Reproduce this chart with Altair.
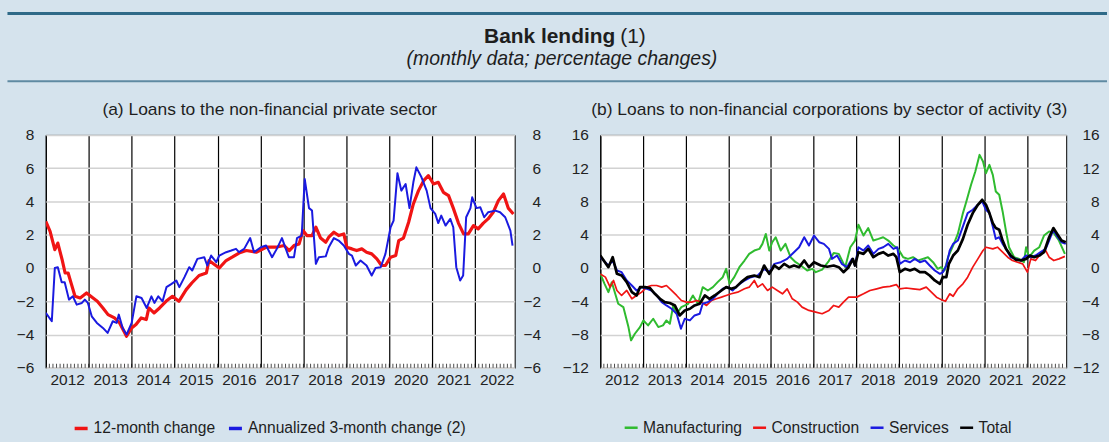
import altair as alt
import pandas as pd

FONT = "Liberation Sans, Arial, Helvetica, sans-serif"
BG = "#d5e3ed"

# ---------------- Panel (a): loans to the non-financial private sector ----------------
a12_t = [2012.00, 2012.10, 2012.21, 2012.28, 2012.38, 2012.45, 2012.52, 2012.60, 2012.68, 2012.80, 2012.95,
         2013.10, 2013.20, 2013.33, 2013.45, 2013.60, 2013.72, 2013.88,
         2014.00, 2014.10, 2014.22, 2014.34, 2014.40, 2014.52, 2014.65, 2014.80, 2014.95,
         2015.10, 2015.27, 2015.40, 2015.57, 2015.74, 2015.80,
         2016.04, 2016.20, 2016.34, 2016.50, 2016.67, 2016.90,
         2017.13, 2017.36, 2017.55, 2017.67, 2017.78, 2017.90, 2017.99,
         2018.08, 2018.20, 2018.29, 2018.40, 2018.52, 2018.59, 2018.71, 2018.82, 2018.94,
         2019.01, 2019.13, 2019.24, 2019.36, 2019.47, 2019.59, 2019.71, 2019.82, 2019.91,
         2020.03, 2020.15, 2020.22, 2020.33, 2020.45, 2020.56, 2020.68, 2020.80, 2020.91,
         2021.03, 2021.14, 2021.26, 2021.38, 2021.49, 2021.61, 2021.73, 2021.84, 2021.96,
         2022.07, 2022.19, 2022.30, 2022.42, 2022.54, 2022.66, 2022.77, 2022.89]
a12_v = [2.8, 2.2, 1.1, 1.5, 0.5, -0.3, -0.3, -1.0, -1.7, -1.8, -1.5,
         -1.8, -2.0, -2.4, -2.8, -3.0, -3.3, -4.1,
         -3.6, -3.4, -3.0, -3.1, -2.4, -2.7, -2.4, -2.0, -1.7,
         -2.0, -1.3, -0.9, -0.45, -0.3, 0.45,
         0.0, 0.45, 0.65, 0.9, 1.05, 0.95,
         1.25, 1.25, 1.35, 1.05, 1.35, 1.45, 2.25,
         1.95, 1.95, 2.45, 1.8, 1.55, 1.85, 2.15, 1.95, 2.05,
         1.25, 1.15, 1.05, 1.15, 0.95, 0.85, 0.55, 0.15, 0.15,
         0.65, 0.75, 1.65, 1.8, 2.75, 3.85, 4.65, 5.25, 5.55,
         5.05, 5.15, 4.55, 4.35, 3.6, 2.7, 2.05, 2.05, 2.55,
         2.35, 2.7, 2.95, 3.35, 4.05, 4.45, 3.6, 3.25]

a3_t = [2012.00, 2012.14, 2012.21, 2012.28, 2012.37, 2012.44, 2012.54, 2012.63, 2012.72, 2012.84, 2012.91, 2012.98,
        2013.07, 2013.19, 2013.33, 2013.44, 2013.56, 2013.65, 2013.70, 2013.79, 2013.88,
        2014.00, 2014.11, 2014.23, 2014.35, 2014.46, 2014.53, 2014.62, 2014.72, 2014.81, 2014.93,
        2015.04, 2015.11, 2015.23, 2015.34, 2015.41, 2015.53, 2015.69, 2015.76, 2015.85, 2015.97,
        2016.04, 2016.20, 2016.32, 2016.43, 2016.50, 2016.62, 2016.76, 2016.85,
        2017.01, 2017.13, 2017.27, 2017.38, 2017.50, 2017.66, 2017.78, 2017.85, 2017.96,
        2018.03, 2018.13, 2018.20, 2018.29, 2018.36, 2018.52, 2018.59, 2018.71, 2018.82, 2018.94,
        2019.06, 2019.13, 2019.22, 2019.33, 2019.47, 2019.59, 2019.68, 2019.80, 2019.91,
        2020.03, 2020.10, 2020.19, 2020.28, 2020.38, 2020.47, 2020.56, 2020.63, 2020.75, 2020.87, 2020.96,
        2021.07, 2021.14, 2021.21, 2021.31, 2021.42, 2021.49, 2021.56, 2021.65, 2021.72, 2021.79, 2021.89, 2021.93,
        2022.03, 2022.12, 2022.21, 2022.30, 2022.47, 2022.58, 2022.70, 2022.82, 2022.87]
a3_v = [-2.7, -3.2, 0.0, 0.05, -0.85, -0.85, -1.9, -1.7, -2.2, -2.1, -1.9, -2.1,
        -2.9, -3.3, -3.6, -3.9, -3.2, -3.3, -2.8, -3.6, -4.0,
        -3.3, -1.7, -1.8, -2.4, -1.7, -2.1, -1.7, -2.0, -1.15, -0.95,
        -0.75, -1.15, -0.55, 0.05, -0.15, 0.55, 0.65, 0.15, 0.75, 0.35,
        0.75, 0.95, 1.05, 1.15, 0.95, 1.15, 1.8, 0.95,
        1.25, 1.35, 0.65, 1.15, 1.8, 0.65, 0.65, 1.8, 1.95,
        5.35, 3.6, 3.45, 0.25, 0.65, 0.7, 1.25, 1.8, 1.65, 1.35,
        0.85, 0.75, 0.15, 0.45, 0.15, -0.45, 0.0, 0.05, 0.85,
        2.45, 2.85, 5.7, 4.65, 5.05, 3.6, 5.15, 6.05, 5.45, 4.65, 3.6,
        3.25, 2.7, 3.15, 2.55, 2.95, 2.45, 0.05, -0.75, -0.45, 3.05, 3.6, 4.25,
        3.6, 3.65, 3.05, 3.35, 3.45, 3.35, 3.05, 2.25, 1.35]

# ---------------- Panel (b): loans to NFCs by sector of activity ----------------
man_t = [2012.00, 2012.10, 2012.19, 2012.27, 2012.35, 2012.42, 2012.54, 2012.66, 2012.72, 2012.81, 2012.93,
         2013.01, 2013.12, 2013.24, 2013.36, 2013.47, 2013.55, 2013.63, 2013.71, 2013.79, 2013.90,
         2014.06, 2014.17, 2014.29, 2014.40, 2014.52, 2014.64, 2014.75, 2014.87, 2014.95,
         2015.03, 2015.14, 2015.26, 2015.38, 2015.49, 2015.61, 2015.73, 2015.80, 2015.88, 2015.96,
         2016.03, 2016.11, 2016.23, 2016.34, 2016.46, 2016.58, 2016.70, 2016.85, 2016.97,
         2017.05, 2017.20, 2017.35, 2017.47, 2017.59, 2017.74, 2017.86, 2017.97,
         2018.05, 2018.17, 2018.28, 2018.40, 2018.52, 2018.63, 2018.75, 2018.87, 2018.98,
         2019.10, 2019.21, 2019.33, 2019.45, 2019.56, 2019.68, 2019.80, 2019.91, 2019.99,
         2020.07, 2020.15, 2020.27, 2020.38, 2020.50, 2020.58, 2020.69, 2020.79, 2020.89, 2020.97,
         2021.04, 2021.12, 2021.20, 2021.27, 2021.35, 2021.43, 2021.51, 2021.58, 2021.70, 2021.82, 2021.93, 2021.98,
         2022.05, 2022.17, 2022.29, 2022.40, 2022.52, 2022.63, 2022.75, 2022.89]
man_v = [-0.7, -1.9, -2.9, -1.7, -3.1, -4.3, -4.7, -7.1, -8.7, -7.9, -7.1,
         -6.3, -6.9, -6.1, -7.1, -6.9, -6.3, -6.7, -4.5, -5.5, -4.7,
         -4.3, -3.3, -4.3, -2.3, -2.7, -2.3, -1.7, -1.1, -0.1,
         -1.9, -1.1, 0.1, 0.9, 1.7, 2.1, 2.3, 2.9, 4.1, 2.1,
         3.1, 3.7, 2.1, 2.9, 1.3, 0.7, 0.3, -0.3, -0.1,
         -0.5, -0.2, 0.8, 1.8, 1.7, 0.1, 2.5, 3.3,
         5.2, 3.9, 4.8, 3.3, 3.5, 3.7, 3.3, 2.7, 2.3,
         1.3, 1.1, 1.3, 0.9, 1.1, 1.3, 0.7, -0.1, 0.1,
         -0.3, 1.3, 2.7, 4.1, 6.6, 8.0, 10.0, 11.6, 13.6, 12.8,
         11.4, 12.4, 11.2, 9.2, 8.8, 6.8, 4.4, 2.5, 1.3, 1.1, 0.7, 2.5,
         1.3, 2.1, 2.5, 3.9, 4.4, 4.2, 3.3, 1.7]

con_t = [2012.00, 2012.12, 2012.23, 2012.31, 2012.39, 2012.50, 2012.62, 2012.74, 2012.85, 2012.97,
         2013.09, 2013.20, 2013.32, 2013.44, 2013.55, 2013.67, 2013.79, 2013.90,
         2014.02, 2014.14, 2014.26, 2014.37, 2014.49, 2014.61, 2014.72, 2014.84, 2014.95,
         2015.07, 2015.22, 2015.38, 2015.49, 2015.61, 2015.69, 2015.80, 2015.92,
         2016.03, 2016.15, 2016.27, 2016.38, 2016.50, 2016.62, 2016.73, 2016.89,
         2017.05, 2017.20, 2017.36, 2017.47, 2017.59, 2017.70, 2017.82,
         2018.01, 2018.17, 2018.32, 2018.48, 2018.63, 2018.79, 2018.94,
         2019.02, 2019.17, 2019.33, 2019.49, 2019.64, 2019.76, 2019.88, 2019.99,
         2020.09, 2020.19, 2020.27, 2020.38, 2020.50, 2020.61, 2020.73, 2020.85, 2020.97,
         2021.04, 2021.20, 2021.31, 2021.43, 2021.55, 2021.66, 2021.78, 2021.90,
         2022.01, 2022.09, 2022.20, 2022.32, 2022.44, 2022.52, 2022.63, 2022.75, 2022.89]
con_v = [-0.7, -1.1, -2.3, -1.5, -2.7, -3.3, -2.7, -3.7, -3.3, -2.9,
         -2.3, -2.1, -2.1, -2.3, -2.1, -2.7, -3.3, -3.9,
         -4.1, -4.1, -3.9, -4.1, -4.5, -3.9, -3.7, -3.5, -3.3,
         -3.1, -2.9, -2.5, -2.3, -1.5, -2.3, -1.9, -2.7,
         -2.3, -2.7, -3.1, -2.5, -3.7, -4.1, -4.7, -5.1,
         -5.3, -5.5, -5.1, -4.5, -4.7, -4.1, -3.5,
         -3.5, -3.1, -2.7, -2.5, -2.3, -2.2, -2.0,
         -2.5, -2.4, -2.5, -2.6, -2.3, -2.9, -3.5, -3.8,
         -4.0, -3.1, -3.4, -2.5, -1.9, -1.1, 0.1, 1.1, 2.1,
         2.5, 2.3, 2.5, 1.9, 1.3, 0.9, 0.7, 0.5,
         -0.5, 1.1, 0.9, 1.7, 2.1, 1.3, 0.9, 1.1, 1.4]

ser_t = [2012.00, 2012.19, 2012.29, 2012.39, 2012.50, 2012.62, 2012.74, 2012.85, 2012.97,
         2013.09, 2013.20, 2013.32, 2013.44, 2013.55, 2013.67, 2013.79, 2013.89, 2013.98,
         2014.10, 2014.21, 2014.33, 2014.40, 2014.52, 2014.64, 2014.75, 2014.87, 2014.98,
         2015.10, 2015.22, 2015.38, 2015.53, 2015.69, 2015.84, 2015.96,
         2016.08, 2016.23, 2016.38, 2016.54, 2016.66, 2016.78, 2016.89,
         2017.01, 2017.13, 2017.24, 2017.36, 2017.43, 2017.55, 2017.66, 2017.78, 2017.90, 2017.97,
         2018.05, 2018.17, 2018.28, 2018.40, 2018.52, 2018.63, 2018.75, 2018.87, 2018.96,
         2019.02, 2019.14, 2019.26, 2019.37, 2019.49, 2019.61, 2019.72, 2019.84, 2019.96,
         2020.03, 2020.11, 2020.19, 2020.27, 2020.38, 2020.50, 2020.61, 2020.73, 2020.85, 2020.95,
         2021.04, 2021.12, 2021.20, 2021.27, 2021.35, 2021.43, 2021.51, 2021.62, 2021.74, 2021.86, 2021.98,
         2022.09, 2022.20, 2022.32, 2022.44, 2022.52, 2022.62, 2022.71, 2022.81, 2022.91]
ser_v = [1.3, 0.3, 0.9, -0.3, -0.5, -1.5, -2.1, -2.7, -2.3,
         -2.5, -2.7, -3.3, -4.1, -4.5, -4.9, -5.5, -7.3, -6.1,
         -6.3, -5.7, -5.5, -4.3, -4.1, -3.7, -3.1, -2.5, -2.3,
         -2.7, -2.1, -1.5, -1.1, -0.9, -0.1, -0.5,
         0.5, 0.7, 1.1, 1.9, 2.5, 3.7, 2.7,
         3.9, 3.1, 2.9, 2.3, 1.1, 1.5, 0.5, 0.1, 1.1, 0.3,
         2.5, 2.1, 2.7, 1.7, 2.3, 2.5, 2.9, 2.3, 2.5,
         0.5, 0.9, 0.7, 1.1, 0.7, 0.9, 0.3, -0.3, -0.7,
         -0.5, 0.3, 2.1, 2.9, 3.3, 5.0, 6.6, 7.0, 7.6, 8.0,
         7.0, 6.6, 5.0, 3.5, 3.7, 2.9, 2.3, 1.3, 1.1, 0.9, 1.5,
         1.3, 1.5, 1.9, 2.3, 3.3, 4.6, 3.8, 3.1, 2.9]

tot_t = [2012.00, 2012.19, 2012.29, 2012.39, 2012.50, 2012.62, 2012.74, 2012.85, 2012.93,
         2013.05, 2013.16, 2013.28, 2013.40, 2013.51, 2013.63, 2013.75, 2013.86, 2013.98,
         2014.10, 2014.21, 2014.33, 2014.45, 2014.56, 2014.68, 2014.84, 2014.95,
         2015.07, 2015.18, 2015.30, 2015.45, 2015.61, 2015.73, 2015.84, 2015.96,
         2016.08, 2016.19, 2016.31, 2016.43, 2016.54, 2016.66, 2016.78, 2016.89,
         2017.01, 2017.17, 2017.32, 2017.47, 2017.59, 2017.70, 2017.82, 2017.92, 2017.97,
         2018.05, 2018.17, 2018.28, 2018.40, 2018.52, 2018.63, 2018.75, 2018.87, 2018.94,
         2019.02, 2019.14, 2019.26, 2019.37, 2019.49, 2019.61, 2019.72, 2019.84, 2019.96,
         2020.03, 2020.11, 2020.17, 2020.27, 2020.38, 2020.50, 2020.61, 2020.73, 2020.85, 2020.95,
         2021.04, 2021.12, 2021.20, 2021.27, 2021.35, 2021.43, 2021.51, 2021.62, 2021.74, 2021.86, 2021.98,
         2022.07, 2022.17, 2022.29, 2022.40, 2022.52, 2022.62, 2022.71, 2022.81, 2022.91]
tot_v = [1.5, 0.1, 1.3, -0.7, -0.9, -1.7, -2.9, -3.3, -2.3,
         -2.3, -2.4, -3.1, -3.7, -4.1, -4.2, -4.5, -5.7, -5.1,
         -4.9, -4.5, -4.3, -3.3, -3.7, -3.3, -2.7, -2.3,
         -2.5, -2.3, -1.7, -1.1, -0.9, -1.1, 0.3, -0.7,
         0.3, -0.1, 0.5, 0.1, 0.3, 0.1, 0.9, 0.1,
         0.7, 0.3, 0.15, 0.3, 0.1, -0.5, 0.1, 1.1, 0.3,
         1.9, 1.7, 2.3, 1.3, 1.7, 1.9, 1.5, 1.7, 1.3,
         -0.5, -0.1, -0.3, -0.1, -0.5, -0.5, -0.9, -1.5, -1.9,
         -1.1, -1.1, 0.5, 1.5, 2.1, 3.5, 5.2, 6.6, 7.6, 8.2,
         7.6, 6.6, 5.4, 4.8, 4.6, 3.3, 2.3, 1.5, 1.0, 0.9, 1.1,
         1.5, 1.3, 1.5, 1.9, 3.7, 4.8, 4.1, 3.3, 3.1]

# ---------------- Axes / labels ----------------
year_ticks = list(range(2012, 2023))
month_ticks = [2012 + k / 12 for k in range(1, 131)]
x_domain = [2012.0, 2022.92]
a_y_ticks = [-6, -4, -2, 0, 2, 4, 6, 8]
b_y_ticks = [-12, -8, -4, 0, 4, 8, 12, 16]
a_names = ["12-month change", "Annualized 3-month change (2)"]
b_names = ["Manufacturing", "Construction", "Services", "Total"]
a_colors = ["#f01414", "#1a1ae0"]
b_colors = ["#2fbb2f", "#f01414", "#1a1ae0", "#000000"]
main_title = "Bank lending"
main_title_note = "(1)"
main_subtitle = "(monthly data; percentage changes)"
a_title = "(a) Loans to the non-financial private sector"
b_title = "(b) Loans to non-financial corporations by sector of activity (3)"

AW, AH = 471, 234
BW, BH = 468, 234
LABEL_SIZE = 15.5


def xenc(field):
    return alt.X(field, type="quantitative",
                 scale=alt.Scale(domain=x_domain, nice=False, zero=False),
                 axis=alt.Axis(values=year_ticks, labelExpr="format(datum.value, 'd')",
                               labelOffset=21.5, labelFlush=False, labelOverlap=False,
                               grid=True, gridColor="black", gridWidth=1.2, gridOpacity=1,
                               ticks=False, domain=False, labelPadding=5, title=None,
                               labelFontSize=LABEL_SIZE, labelColor="#222"))


def yenc(domain, ticks):
    return alt.Y("v:Q", scale=alt.Scale(domain=domain, nice=False, zero=False),
                 axis=alt.Axis(values=ticks, orient="left", grid=True, gridColor="#d2d2d2",
                               gridWidth=1.5, ticks=False, domain=False, labelPadding=12,
                               title=None, labelFontSize=LABEL_SIZE, labelColor="#222"))


def line(t, v, name, names, colors, width, cfg):
    df = pd.DataFrame({"t": t, "v": v, "series": name})
    return alt.Chart(df).mark_line(strokeWidth=width, strokeJoin="round", clip=True).encode(
        x=xenc("t"),
        y=yenc(*cfg["ydom"]),
        color=alt.Color("series:N", scale=alt.Scale(domain=names, range=colors), legend=cfg["leg"]),
    )


def right_axis(domain, ticks, pad):
    df = pd.DataFrame({"t": month_ticks})
    return alt.Chart(df).mark_tick(orient="vertical", size=8, thickness=1, color="black", clip=True).encode(
        x=xenc("t"),
        y=alt.YDatum(domain[0], scale=alt.Scale(domain=domain, nice=False, zero=False),
                     axis=alt.Axis(values=ticks, orient="right", grid=False, ticks=False, domain=False,
                                   labelAlign="right", labelPadding=pad, title=None,
                                   labelFontSize=LABEL_SIZE, labelColor="#222")),
    )


def text(label, x, y, size, align="center", weight="normal", style="normal"):
    df = pd.DataFrame({"label": [label]})
    return alt.Chart(df).mark_text(fontSize=size, align=align, baseline="alphabetic",
                                   fontWeight=weight, fontStyle=style, color="#1e1e1e",
                                   font=FONT).encode(x=alt.value(x), y=alt.value(y), text="label:N")


def hrule(y, x1, x2, color, width):
    df = pd.DataFrame({"k": [0]})
    return alt.Chart(df).mark_rule(color=color, strokeWidth=width).encode(
        x=alt.value(x1), x2=alt.value(x2), y=alt.value(y))


leg_common = dict(orient="none", direction="horizontal", title=None, symbolType="stroke",
                  symbolSize=170, labelFontSize=15.7, labelFont=FONT, labelColor="#1e1e1e",
                  labelLimit=0, labelOffset=4, padding=0, legendY=286)

leg_a = alt.Legend(legendX=27, symbolStrokeWidth=3.5, columnPadding=5, **leg_common)
leg_b = alt.Legend(legendX=23, symbolStrokeWidth=2.5, columnPadding=5, **leg_common)

A = {"ydom": ([-6, 8], a_y_ticks), "leg": leg_a}
B = {"ydom": ([-12, 16], b_y_ticks), "leg": leg_b}

panel_a = alt.layer(
    alt.layer(
        line(a12_t, a12_v, a_names[0], a_names, a_colors, 3.2, A),
        line(a3_t, a3_v, a_names[1], a_names, a_colors, 2.0, A),
        hrule(-122, -38.5, 1066, "#2f6a88", 3),
        hrule(-54, -38.5, 1066, "#5f8aa2", 2),
        text(main_title, 572, -92, 21, align="right", weight="bold"),
        text(main_title_note, 577, -92, 21, align="left"),
        text(main_subtitle, 518.5, -70, 19.5, style="italic"),
        text(a_title, 225, -20, 17.5),
    ),
    right_axis([-6, 8], a_y_ticks, 26),
).resolve_scale(y="independent").properties(width=AW, height=AH)

panel_b = alt.layer(
    alt.layer(
        line(man_t, man_v, b_names[0], b_names, b_colors, 2.0, B),
        line(con_t, con_v, b_names[1], b_names, b_colors, 1.7, B),
        line(ser_t, ser_v, b_names[2], b_names, b_colors, 2.0, B),
        line(tot_t, tot_v, b_names[3], b_names, b_colors, 2.7, B),
        text(b_title, 230, -20, 17.5),
    ),
    right_axis([-12, 16], b_y_ticks, 33),
).resolve_scale(y="independent").properties(width=BW, height=BH)

chart = alt.hconcat(panel_a, panel_b, spacing=86, bounds="flush").resolve_scale(
    color="independent"
).properties(
    padding={"left": 5, "top": 10.5, "right": 0, "bottom": 8}
).configure(
    background=BG, font=FONT
).configure_view(
    fill="white", stroke="black", strokeWidth=1
)

chart.save("out.html", embed_options={"renderer": "svg", "actions": False})
